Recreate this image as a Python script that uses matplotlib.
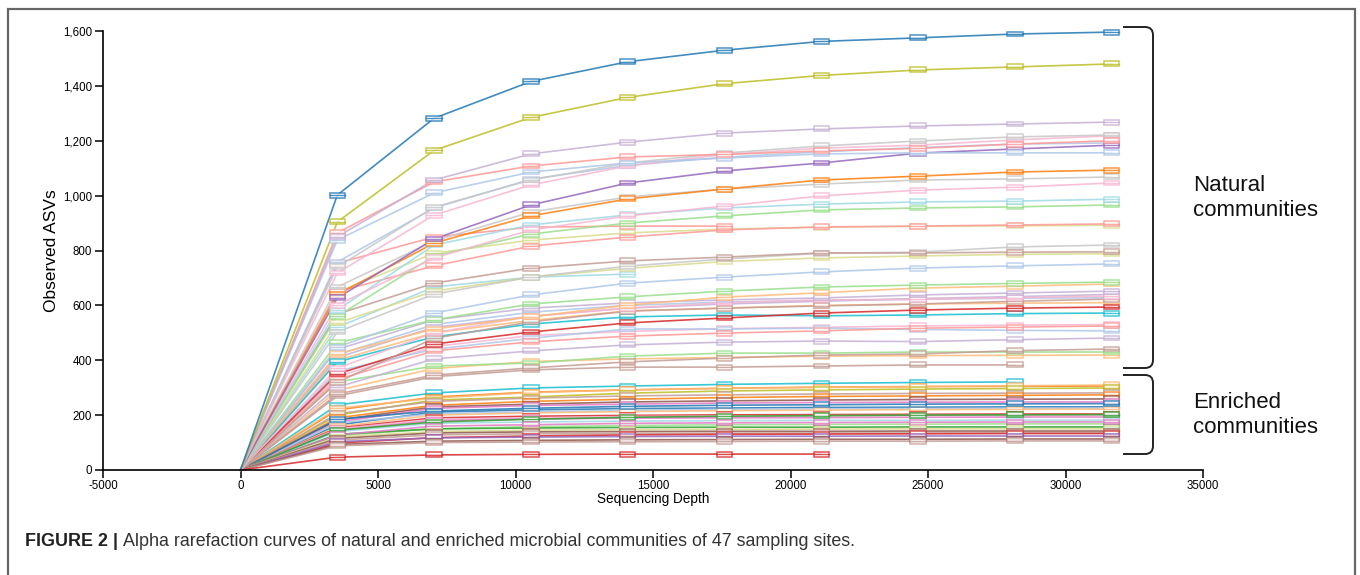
import matplotlib
matplotlib.use("Agg")
import matplotlib.pyplot as plt
from matplotlib.patches import Rectangle, PathPatch
from matplotlib.path import Path
from matplotlib.ticker import FuncFormatter

plt.rcParams['font.family'] = ['Liberation Sans', 'DejaVu Sans']
plt.rcParams['axes.unicode_minus'] = False

# rarefaction depths (0 plus ten steps)
depths = [0, 3520, 7040, 10560, 14080, 17600, 21120, 24640, 28160, 31680]

# natural communities: colour, observed ASVs at each depth
natural_colors = [
    '#1f77b4', '#bcbd22', '#c5b0d5', '#ff9896', '#aec7e8', '#c7c7c7', '#f7b6d2',
    '#9467bd', '#aec7e8', '#ff7f0e', '#c7c7c7', '#f7b6d2', '#9edae5', '#98df8a',
    '#ff9896', '#ff9896', '#dbdb8d', '#c49c94', '#c7c7c7', '#dbdb8d', '#aec7e8',
    '#9edae5', '#98df8a', '#ffbb78', '#c5b0d5', '#f7b6d2', '#c49c94', '#d62728',
    '#17becf', '#ffbb78', '#ff9896', '#aec7e8', '#c5b0d5', '#c49c94', '#98df8a',
    '#ffbb78', '#c49c94', '#c5b0d5', '#f7b6d2', '#aec7e8',
]
natural_obs = [
    [0, 1002, 1282, 1416, 1488, 1530, 1562, 1575, 1589, 1596],
    [0, 904, 1165, 1285, 1358, 1408, 1438, 1458, 1469, 1480],
    [0, 850, 1057, 1152, 1195, 1228, 1243, 1254, 1261, 1268],
    [0, 864, 1050, 1108, 1141, 1150, 1163, 1172, 1188, 1200],
    [0, 838, 1010, 1086, 1119, 1137, 1152, 1156, 1156, 1156],
    [0, 740, 958, 1057, 1119, 1155, 1181, 1199, 1214, 1221],
    [0, 718, 929, 1039, 1108, 1150, 1173, 1184, 1203, 1218],
    [0, 627, 842, 966, 1046, 1090, 1119, 1155, 1170, 1184],
    [0, 758, 955, 1060, 1110, 1140, 1160, 1175, 1188, 1192],
    [0, 640, 827, 926, 988, 1024, 1057, 1071, 1086, 1093],
    [0, 667, 835, 940, 995, 1024, 1042, 1057, 1061, 1068],
    [0, 601, 773, 875, 926, 962, 999, 1020, 1031, 1046],
    [0, 583, 820, 893, 930, 955, 969, 977, 980, 987],
    [0, 560, 780, 860, 900, 926, 948, 955, 959, 966],
    [0, 754, 849, 885, 889, 889],
    [0, 650, 744, 816, 849, 875, 886, 889, 893, 897],
    [0, 649, 790, 838, 864, 878, 885, 888, 890, 892],
    [0, 568, 681, 736, 762, 776, 791, 791, 794, 795],
    [0, 503, 641, 703, 743, 769, 790, 794, 813, 820],
    [0, 536, 652, 703, 735, 760, 773, 780, 786, 788],
    [0, 448, 572, 638, 681, 703, 722, 736, 744, 751],
    [0, 520, 667, 703, 714],
    [0, 463, 547, 605, 631, 652, 667, 674, 680, 685],
    [0, 423, 514, 558, 601, 630, 646, 663, 670, 678],
    [0, 440, 547, 590, 609, 620, 627, 638, 645, 652],
    [0, 371, 500, 560, 590, 610, 620, 622, 628, 634],
    [0, 320, 480, 540, 579, 590, 598, 605, 615, 623],
    [0, 350, 459, 503, 536, 554, 572, 583, 590, 594],
    [0, 394, 485, 532, 558, 565, 562, 565, 570, 572],
    [0, 400, 500, 545, 580, 590, 600, 605, 608, 610],
    [0, 330, 434, 467, 488, 499, 507, 517, 521, 525],
    [0, 360, 440, 480, 514, 514, 517, 512, 509, 507],
    [0, 302, 405, 434, 456, 466, 470, 468, 475, 481],
    [0, 277, 346, 372, 394, 408, 419, 423, 435, 441],
    [0, 321, 379, 390, 415, 426, 426, 430, 430, 430],
    [0, 290, 370, 395, 405, 410, 415, 417, 418, 419],
    [0, 270, 340, 365, 375, 375, 379, 383, 383],
    [0, 410, 520, 560, 590, 605, 615, 625, 632, 640],
    [0, 340, 450, 490, 505, 515, 520, 525, 528, 530],
    [0, 420, 530, 575, 600, 612, 618, 622, 626, 628],
]

# enriched communities
enriched_colors = [
    '#17becf', '#ff7f0e', '#ffbb78', '#bcbd22', '#c49c94', '#ff7f0e', '#8c564b',
    '#e377c2', '#1f77b4', '#aec7e8', '#ffbb78', '#1f77b4', '#d62728', '#f7b6d2',
    '#e377c2', '#9edae5', '#2ca02c', '#98df8a', '#2ca02c', '#e377c2', '#dbdb8d',
    '#8c564b', '#c49c94', '#d62728', '#9467bd', '#8c564b', '#c49c94', '#d62728',
]
enriched_obs = [
    [0, 237, 281, 299, 306, 312, 316, 319, 321],
    [0, 219, 266, 284, 292, 298, 302, 304, 305, 306],
    [0, 225, 262, 282, 292, 297, 301, 304, 307, 310],
    [0, 200, 255, 266, 280, 288, 292, 295, 297, 299],
    [0, 205, 250, 262, 270, 274, 277, 279, 280, 281],
    [0, 190, 236, 250, 258, 264, 268, 270, 272, 274],
    [0, 182, 230, 240, 248, 252, 255, 257, 258, 259],
    [0, 175, 225, 235, 240, 244, 246, 247, 248, 248],
    [0, 164, 211, 219, 224, 226, 228, 229, 230, 230],
    [0, 172, 205, 212, 218, 221, 223, 224, 225, 226],
    [0, 158, 200, 208, 213, 216, 218, 220, 221, 222],
    [0, 185, 215, 225, 232, 236, 238, 240, 241, 242],
    [0, 153, 190, 196, 199, 201, 202, 203, 204, 204],
    [0, 150, 185, 190, 195, 197, 198, 199, 200, 200],
    [0, 145, 180, 186, 189, 190, 191, 192, 193, 193],
    [0, 140, 170, 175, 178, 180, 181, 181, 182, 182],
    [0, 145, 175, 185, 192, 196, 198, 200, 201, 202],
    [0, 125, 150, 158, 162, 165, 166, 167, 168, 168],
    [0, 130, 150, 153, 155, 156, 156, 157, 157, 157],
    [0, 128, 160, 165, 170, 172, 173, 174, 175, 175],
    [0, 120, 140, 145, 147, 148, 149, 150, 150, 150],
    [0, 115, 135, 139, 140, 141, 141, 142, 142, 142],
    [0, 109, 128, 132, 133, 134, 135, 135, 135, 135],
    [0, 98, 118, 124, 128, 130, 131, 132, 133, 133],
    [0, 103, 117, 120, 122, 123, 123, 124, 124, 124],
    [0, 93, 105, 108, 110, 111, 112, 112, 113, 113],
    [0, 88, 100, 102, 103, 104, 105, 105, 106, 106],
    [0, 47, 55, 57, 58, 58, 58],
]

x_ticks = [-5000, 0, 5000, 10000, 15000, 20000, 25000, 30000, 35000]
y_ticks = [0, 200, 400, 600, 800, 1000, 1200, 1400, 1600]

W, H = 1360, 575


def fx(px):
    return px / W


def fy(py):
    return 1 - py / H


fig = plt.figure(figsize=(W / 100, H / 100), dpi=100)
ax = fig.add_axes([fx(103), fy(470), (1203 - 103) / W, (470 - 31) / H])


def draw_curve(vals, color):
    xs = depths[:len(vals)]
    ax.plot(xs, vals, color=color, lw=1.2, alpha=0.85, zorder=2, clip_on=False)
    for x, y in zip(xs[1:], vals[1:]):
        ax.add_patch(Rectangle((x - 280, y - 9), 560, 18, fc='white', ec=color,
                               lw=1.1, alpha=0.8, zorder=3, clip_on=False))
        ax.plot([x - 280, x + 280], [y, y], color=color, lw=1.0, alpha=0.8,
                zorder=3, clip_on=False)


for c, v in zip(enriched_colors, enriched_obs):
    draw_curve(v, c)
for c, v in zip(natural_colors[::-1], natural_obs[::-1]):
    draw_curve(v, c)

ax.set_xlim(-5000, 35000)
ax.set_ylim(0, 1600)
ax.set_xticks(x_ticks)
ax.set_yticks(y_ticks)
ax.yaxis.set_major_formatter(FuncFormatter(lambda v, p: f'{v:,.0f}'))
for s in ['top', 'right']:
    ax.spines[s].set_visible(False)
for s in ['left', 'bottom']:
    ax.spines[s].set_linewidth(1.2)
ax.tick_params(direction='out', length=6, width=1.1, labelsize=8.3, pad=2)
ax.tick_params(axis='x', pad=1)
ax.set_xlabel('Sequencing Depth', fontsize=9.8, labelpad=0)
ax.set_ylabel('Observed ASVs', fontsize=12.5, labelpad=3)


# braces to the right of the curves
def bracket(top, bottom):
    x0, x1, r = 1123, 1153, 8
    verts = [(x0, top), (x1 - r, top), (x1, top), (x1, top + r),
             (x1, bottom - r), (x1, bottom), (x1 - r, bottom), (x0, bottom)]
    codes = [Path.MOVETO, Path.LINETO, Path.CURVE3, Path.CURVE3,
             Path.LINETO, Path.CURVE3, Path.CURVE3, Path.LINETO]
    verts = [(fx(a), fy(b)) for a, b in verts]
    fig.add_artist(PathPatch(Path(verts, codes), fill=False, ec='#222222',
                             lw=1.4, transform=fig.transFigure))


bracket(27, 368)
bracket(375, 454)

fig.text(fx(1193), fy(198), 'Natural\ncommunities', fontsize=16, ha='left',
         va='center', color='#111111')
fig.text(fx(1193), fy(415), 'Enriched\ncommunities', fontsize=16, ha='left',
         va='center', color='#111111')

# panel frame
fig.add_artist(Rectangle((fx(8), fy(600)), fx(1355) - fx(8), fy(9) - fy(600),
                         fill=False, ec='#666666', lw=1.6,
                         transform=fig.transFigure))

# caption
t1 = fig.text(fx(25), fy(541), 'FIGURE 2 |', fontsize=12.9, weight='bold',
              va='center', color='#222222')
fig.canvas.draw()
bb = t1.get_window_extent()
fig.text(fx(bb.x1 + 5), fy(541),
         'Alpha rarefaction curves of natural and enriched microbial '
         'communities of 47 sampling sites.',
         fontsize=12.9, va='center', color='#333333')

fig.savefig('out.png', dpi=100)
